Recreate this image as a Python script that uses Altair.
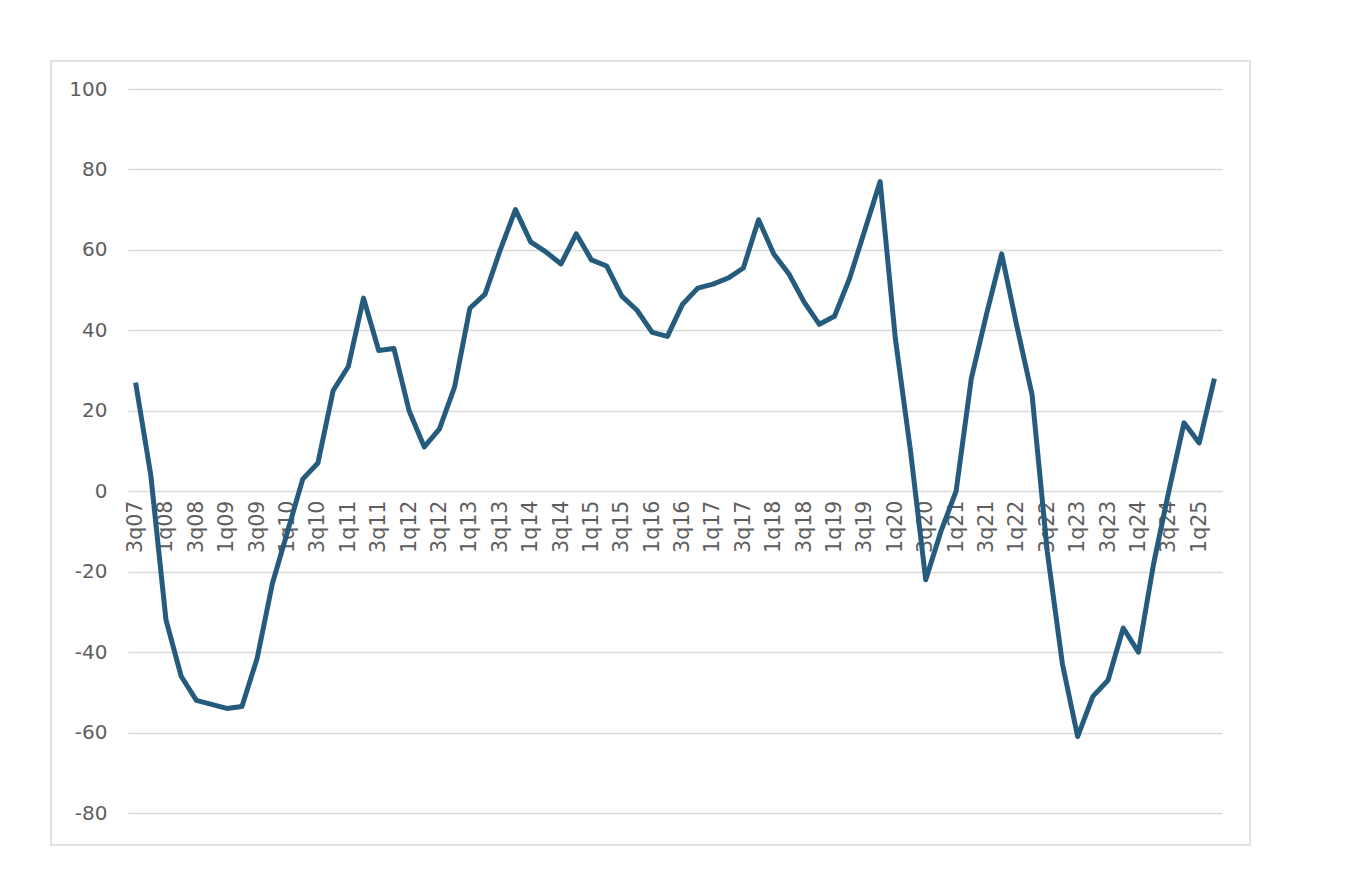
import altair as alt
import pandas as pd

# Quarters 3q07 .. 2q25
quarters = []
q, yr = 3, 7
for _ in range(72):
    quarters.append(f"{q}q{yr:02d}")
    q += 1
    if q > 4:
        q, yr = 1, yr + 1

values = [27, 4, -32, -46, -52, -53, -54, -53.5, -41.5, -23,
          -10, 3, 7, 25, 31, 48, 35, 35.5, 20, 11,
          15.5, 26, 45.5, 49, 60, 70, 62, 59.5, 56.5, 64,
          57.5, 56, 48.5, 45, 39.5, 38.5, 46.5, 50.5, 51.5, 53,
          55.5, 67.5, 59, 54, 47, 41.5, 43.5, 53, 65, 77,
          38, 10, -22, -10, 0, 28, 44, 59, 41, 24,
          -15, -43, -61, -51, -47, -34, -40, -18, 0, 17,
          12, 28]

tick_labels = [lab for lab in quarters if lab[0] in "13"]
y_ticks = [-80, -60, -40, -20, 0, 20, 40, 60, 80, 100]

df = pd.DataFrame({"quarter": quarters, "value": values})

W, H = 1094, 724
FONT = "DejaVu Sans"
LABEL_COLOR = "#5e5e5e"
GRID = "#d9d9d9"

line = alt.Chart(df).mark_line(color="#255b7d", strokeWidth=5,
                               strokeJoin="round", strokeCap="butt").encode(
    x=alt.X("quarter:O", sort=quarters,
            scale=alt.Scale(type="point", padding=0.5),
            axis=alt.Axis(values=tick_labels, labelAngle=270, domain=False,
                          ticks=False, grid=False, title=None,
                          labelFontSize=20.5, labelColor=LABEL_COLOR,
                          labelFont=FONT, labelPadding=9,
                          offset=-(H * 80 / 180), labelOverlap=False)),
    y=alt.Y("value:Q", scale=alt.Scale(domain=[-80, 100], nice=False),
            axis=alt.Axis(values=y_ticks, domain=False, ticks=False,
                          title=None, gridColor=GRID, gridWidth=1.3,
                          labelExpr="'' + datum.value",
                          labelFontSize=20, labelColor=LABEL_COLOR,
                          labelFont=FONT, labelPadding=21)),
)

frame = alt.Chart(pd.DataFrame({"a": [0]})).mark_rect(
    filled=False, stroke="#d9d9d9", strokeWidth=1.5
).encode(x=alt.value(-77), x2=alt.value(1122), y=alt.value(-28), y2=alt.value(756))

chart = alt.layer(frame, line).properties(
    width=W, height=H,
    autosize=alt.AutoSizeParams(type="none"),
    padding={"left": 120, "top": 81, "right": 110, "bottom": 55},
).configure(background="white").configure_view(strokeWidth=0, stroke="transparent")

chart.save("out.html", embed_options={"renderer": "svg", "actions": False})
